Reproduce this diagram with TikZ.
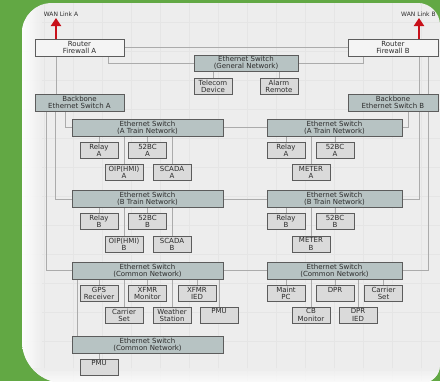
\documentclass[tikz,border=0pt]{standalone}
\usepackage{fontspec}
\setmainfont{DejaVu Sans}
\usetikzlibrary{backgrounds,arrows.meta}

\definecolor{leaf}{HTML}{62A844}
\definecolor{panel}{HTML}{EDEDED}
\definecolor{gridline}{HTML}{E5E5E5}
\definecolor{wirecol}{HTML}{ABABAB}
\definecolor{edgecol}{HTML}{5C5C5C}
\definecolor{swfill}{HTML}{B7C3C3}
\definecolor{devfill}{HTML}{DADADA}
\definecolor{rtfill}{HTML}{F4F4F4}
\definecolor{ink}{HTML}{2C2C2C}
\definecolor{wanred}{HTML}{C8101A}

\tikzset{
  unit/.style={draw=edgecol, line width=0.8pt, inner sep=0pt, align=center,
               text=ink, font=\fontsize{7}{7.2}\selectfont},
  dev/.style={unit, fill=devfill, minimum width=38pt, minimum height=16pt},
  sw/.style={unit, fill=swfill, minimum height=17pt},
  rt/.style={unit, fill=rtfill, minimum height=17pt},
  wire/.style={draw=wirecol, line width=0.7pt},
  wan/.style={draw=wanred, line width=2.8pt, -{Triangle[width=10pt,length=8pt]}},
  wanlabel/.style={text=ink, font=\fontsize{6}{6}\selectfont, inner sep=0pt},
}

\begin{document}
\begin{tikzpicture}[x=1pt,y=-1pt]
\useasboundingbox (0,0) rectangle (440,381);

% ---------- boxes ----------
\node[rt, minimum width=89pt] (rtA) at (79.5,47.5) {Router\\Firewall A};
\node[rt, minimum width=90pt] (rtB) at (393,47.5) {Router\\Firewall B};
\node[sw, minimum width=104pt, minimum height=16pt] (gen) at (246,63) {Ethernet Switch\\(General Network)};
\node[dev] (tel) at (213,86) {Telecom\\Device};
\node[dev] (alm) at (279,86) {Alarm\\Remote};
\node[sw, minimum width=89pt] (bbA) at (79.5,102.5) {Backbone\\Ethernet Switch A};
\node[sw, minimum width=90pt] (bbB) at (393,102.5) {Backbone\\Ethernet Switch B};

% A train network
\node[sw, minimum width=151pt] (trAL) at (147.5,127.5) {Ethernet Switch\\(A Train Network)};
\node[sw, minimum width=135pt] (trAR) at (334.5,127.5) {Ethernet Switch\\(A Train Network)};
\node[dev] (rlyAL) at (99,150) {Relay\\A};
\node[dev] (bcAL) at (147.5,150) {52BC\\A};
\node[dev] (oipA) at (124,172.5) {OIP(HMI)\\A};
\node[dev] (scdA) at (172,172.5) {SCADA\\A};
\node[dev] (rlyAR) at (286,150) {Relay\\A};
\node[dev] (bcAR) at (335,150) {52BC\\A};
\node[dev] (mtrA) at (311,172.5) {METER\\A};

% B train network
\node[sw, minimum width=151pt] (trBL) at (147.5,199) {Ethernet Switch\\(B Train Network)};
\node[sw, minimum width=135pt] (trBR) at (334.5,199) {Ethernet Switch\\(B Train Network)};
\node[dev] (rlyBL) at (99,221) {Relay\\B};
\node[dev] (bcBL) at (147.5,221) {52BC\\B};
\node[dev] (oipB) at (124,244) {OIP(HMI)\\B};
\node[dev] (scdB) at (172,244) {SCADA\\B};
\node[dev] (rlyBR) at (286,221) {Relay\\B};
\node[dev] (bcBR) at (335,221) {52BC\\B};
\node[dev] (mtrB) at (311,244) {METER\\B};

% common network
\node[sw, minimum width=151pt] (cmL) at (147.5,270.5) {Ethernet Switch\\(Common Network)};
\node[sw, minimum width=135pt] (cmR) at (334.5,270.5) {Ethernet Switch\\(Common Network)};
\node[dev] (gps) at (99,293.5) {GPS\\Receiver};
\node[dev] (xmon) at (147.5,293.5) {XFMR\\Monitor};
\node[dev] (xied) at (197,293.5) {XFMR\\IED};
\node[dev] (carL) at (124,315) {Carrier\\Set};
\node[dev] (wst) at (172,315) {Weather\\Station};
\node[dev] (pmuA) at (219,315) {PMU\\~};
\node[dev] (mpc) at (286,293.5) {Maint\\PC};
\node[dev] (dpr) at (335,293.5) {DPR\\~};
\node[dev] (carR) at (383.5,293.5) {Carrier\\Set};
\node[dev] (cbm) at (311,315) {CB\\Monitor};
\node[dev] (dpri) at (358,315) {DPR\\IED};
\node[sw, minimum width=151pt] (cmLow) at (147.5,344.5) {Ethernet Switch\\(Common Network)};
\node[dev] (pmuB) at (99,367) {PMU\\~};

% bus line positions
\coordinate (xa) at (108,0);
\coordinate (xb) at (363,0);
\coordinate (wA) at (56,0);
\coordinate (wB) at (419,0);
\coordinate (l1) at (46,0);
\coordinate (l2) at (55,0);
\coordinate (l3) at (65,0);
\coordinate (l4) at (77,0);
\coordinate (r1) at (408,0);
\coordinate (r3) at (428,0);
\coordinate (wanA) at (56,18);
\coordinate (wanB) at (419,18);

% WAN uplinks
\draw[wan] (rtA.north -| wA) -- (wanA);
\draw[wan] (rtB.north -| wB) -- (wanB);
\node[wanlabel] (lblA) at (61,14) {WAN Link A};
\node[wanlabel, anchor=west] (lblB) at (401,14) {WAN Link B};

\begin{pgfonlayer}{background}
  % ---------- backdrop ----------
  \fill[leaf] (0,0) rectangle (440,381);
  \path[fill=panel] (22,33) .. controls (22,16.4) and (35.4,3) .. (52,3)
        -- (418,3) .. controls (430,3) and (440,13) .. (440,25)
        -- (440,365) .. controls (440,375) and (432,383) .. (422,383)
        -- (64,383) .. controls (40.8,383) and (22,364.2) .. (22,341) -- cycle;
  \begin{scope}
    \clip (22,33) .. controls (22,16.4) and (35.4,3) .. (52,3)
        -- (418,3) .. controls (430,3) and (440,13) .. (440,25)
        -- (440,365) .. controls (440,375) and (432,383) .. (422,383)
        -- (64,383) .. controls (40.8,383) and (22,364.2) .. (22,341) -- cycle;
    \foreach \gx in {44,73,...,440} \draw[gridline, line width=0.5pt] (\gx,0) -- (\gx,381);
    \foreach \gy in {22,51,...,381} \draw[gridline, line width=0.5pt] (0,\gy) -- (440,\gy);
    \shade[left color=white, right color=panel, opacity=0.9] (22,0) rectangle (42,381);
    \shade[top color=panel, bottom color=white, opacity=0.8] (0,368) rectangle (440,383);
  \end{scope}

  % ---------- connectors ----------
  \draw[wire] (rtA.east) -- (rtB.west);
  \draw[wire] (rtA.south -| xa) |- (gen.west);
  \draw[wire] (rtB.south -| xb) |- (gen.east);
  \draw[wire] (rtA.south -| wA) -- (bbA.north -| wA);
  \draw[wire] (rtB.south -| wB) -- (bbB.north -| wB);
  \draw[wire] (bbA.south -| l3) |- (trAL.west);
  \draw[wire] (bbA.south -| l2) |- (trBL.west);
  \draw[wire] (bbA.south -| l1) |- (cmL.west);
  \draw[wire] (bbB.south -| r1) |- (trAR.east);
  \draw[wire] (bbB.south -| wB) |- (trBR.east);
  \draw[wire] (rtB.south -| r3) |- (cmR.east);
  \draw[wire] (trAL.east) -- (trAR.west);
  \draw[wire] (trBL.east) -- (trBR.west);
  \draw[wire] (cmL.east) -- (cmR.west);
  \draw[wire] (cmL.south -| l4) -- (cmLow.north -| l4);
  \foreach \s/\d in {gen/tel, gen/alm,
      trAL/rlyAL, trAL/bcAL, trAL/oipA, trAL/scdA,
      trAR/rlyAR, trAR/bcAR, trAR/mtrA,
      trBL/rlyBL, trBL/bcBL, trBL/oipB, trBL/scdB,
      trBR/rlyBR, trBR/bcBR, trBR/mtrB,
      cmL/gps, cmL/xmon, cmL/xied, cmL/carL, cmL/wst, cmL/pmuA,
      cmR/mpc, cmR/dpr, cmR/carR, cmR/cbm, cmR/dpri,
      cmLow/pmuB}
    \draw[wire] (\d.north |- \s.south) -- (\d.north);
\end{pgfonlayer}
\end{tikzpicture}
\end{document}
